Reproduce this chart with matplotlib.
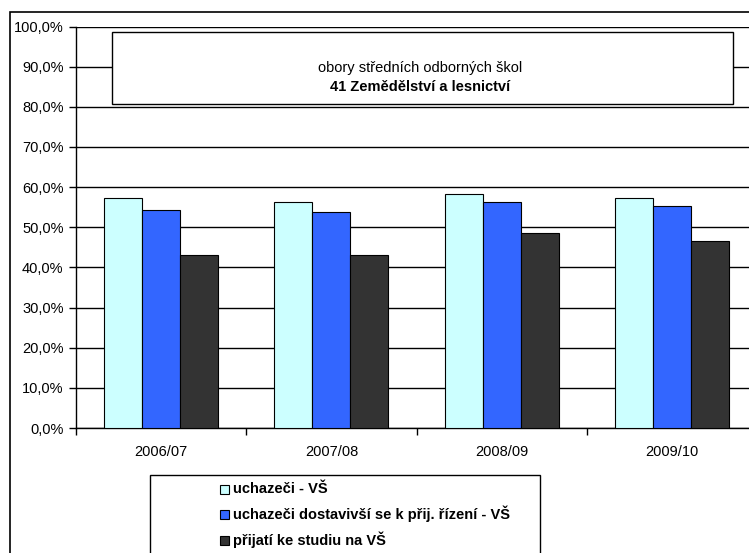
import matplotlib
matplotlib.use("Agg")
import matplotlib.pyplot as plt
from matplotlib.patches import Rectangle
from matplotlib.ticker import FuncFormatter
import numpy as np

plt.rcParams['font.family'] = ['Liberation Sans', 'DejaVu Sans']

categories = ["2006/07", "2007/08", "2008/09", "2009/10"]
series_names = ["uchazeči - VŠ",
                "uchazeči dostavivší se k přij. řízení - VŠ",
                "přijatí ke studiu na VŠ"]
uchazeci = [57.4, 56.2, 58.3, 57.3]
dostavivsi = [54.4, 53.8, 56.2, 55.3]
prijati = [43.1, 43.1, 48.5, 46.6]
colors = ["#CCFFFF", "#3366FF", "#333333"]
title_line1 = "obory středních odborných škol"
title_line2 = "41 Zemědělství a lesnictví"

W, H = 749, 553
fig = plt.figure(figsize=(W / 100, H / 100), dpi=100)

# outer frame
fig.add_artist(Rectangle((9.5 / W, -0.1), 2, (H - 12.5) / H + 0.1, transform=fig.transFigure,
                         fill=False, edgecolor="black", linewidth=1.2))

x0, x1, y0, y1 = 76, 757, 428, 26.5
ax = fig.add_axes([x0 / W, (H - y0) / H, (x1 - x0) / W, (y0 - y1) / H])
x = np.arange(len(categories))
bw = 0.223
data = [uchazeci, dostavivsi, prijati]
for i, (vals, c) in enumerate(zip(data, colors)):
    ax.bar(x + (i - 1) * bw, vals, width=bw, color=c, edgecolor="black",
           linewidth=0.8, zorder=3, label=series_names[i])

ax.set_xlim(-0.5, len(categories) - 0.5)
ax.set_ylim(0, 100)
ax.set_yticks(np.arange(0, 101, 10))
ax.yaxis.set_major_formatter(FuncFormatter(lambda v, p: f"{v:.1f}%".replace(".", ",")))
ax.grid(axis="y", color="black", linewidth=1.0, zorder=0)
ax.set_axisbelow(True)
for s in ["top", "right"]:
    ax.spines[s].set_visible(False)
ax.spines["left"].set_linewidth(1.0)
ax.spines["bottom"].set_linewidth(1.0)
ax.set_xticks(x)
ax.set_xticklabels(categories)
ax.set_xticks(np.arange(-0.5, len(categories), 1), minor=True)
ax.tick_params(axis="x", which="major", length=0, pad=12, labelsize=10.5)
ax.tick_params(axis="x", which="minor", length=5, width=1)
ax.tick_params(axis="y", length=5, width=1, labelsize=10.5, pad=4)

# title box
fig.add_artist(Rectangle((111.5 / W, (H - 104) / H), (733 - 111.5) / W, 72 / H,
                         transform=fig.transFigure, facecolor="white",
                         edgecolor="black", linewidth=1.0, zorder=5))
fig.text(420 / W, (H - 68) / H, title_line1, ha="center", va="center", fontsize=10.5, zorder=6)
fig.text(420 / W, (H - 87) / H, title_line2, ha="center", va="center", fontsize=10.5,
         fontweight="bold", zorder=6)

# legend box
fig.add_artist(Rectangle((150 / W, -0.05), (540 - 150) / W, (H - 475) / H + 0.05,
                         transform=fig.transFigure, facecolor="white",
                         edgecolor="black", linewidth=1.0, zorder=5))
ys = [489, 514, 540]
for name, c, yy in zip(series_names, colors, ys):
    fig.add_artist(Rectangle((220 / W, (H - yy - 4.5) / H), 9 / W, 9 / H,
                             transform=fig.transFigure, facecolor=c,
                             edgecolor="black", linewidth=0.8, zorder=6))
    fig.text(233 / W, (H - yy) / H, name, ha="left", va="center", fontsize=10.5,
             fontweight="bold", zorder=6)

fig.savefig("out.png", dpi=100)
